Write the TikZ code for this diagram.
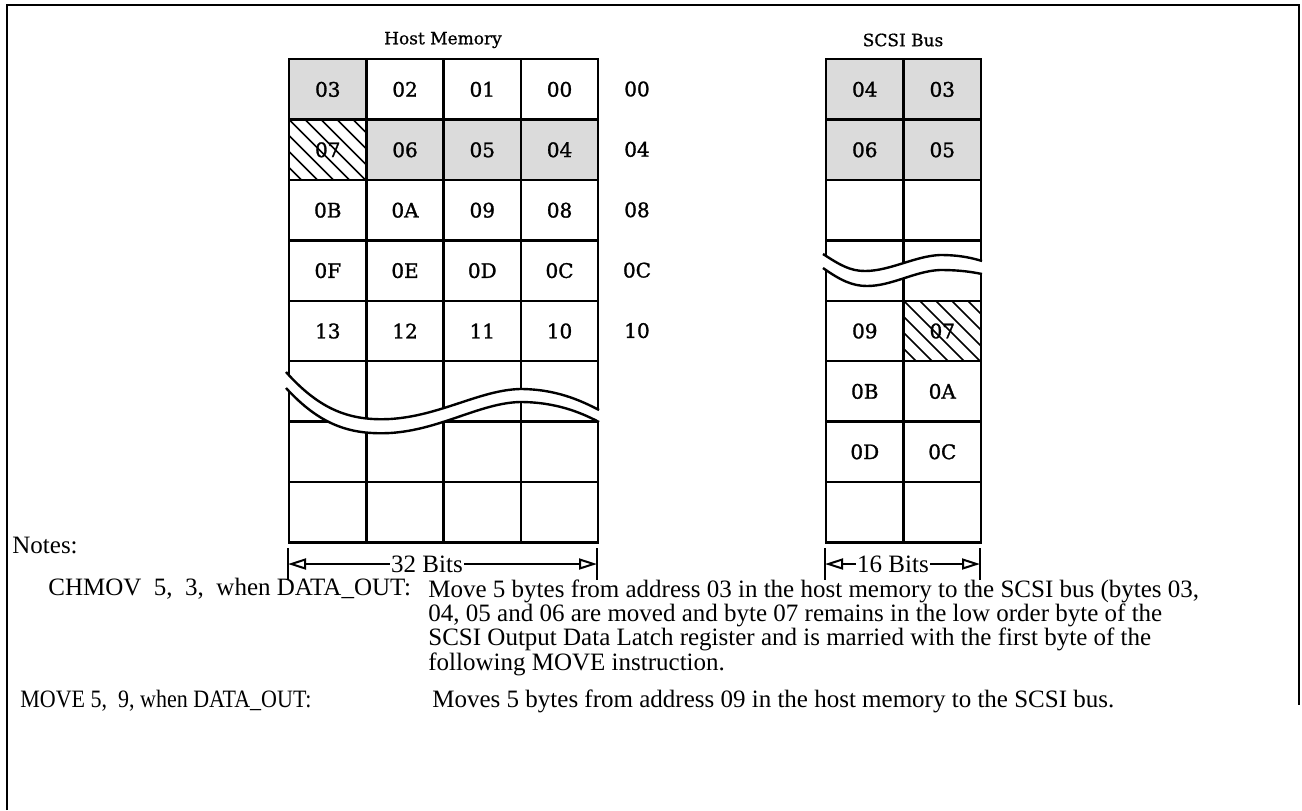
\documentclass[tikz,border=0pt]{standalone}
\usepackage{fontspec}
\setmainfont{Liberation Serif}
\newfontfamily\cellfont[FakeBold=1.3]{DejaVu Serif}
\newfontfamily\titlefont[FakeBold=0.8]{DejaVu Serif}
\newfontfamily\narrowfont[FakeStretch=0.88]{Liberation Serif}
\usetikzlibrary{arrows.meta}

\begin{document}
\begin{tikzpicture}[
        x=0.5pt, y=-0.5pt,
        cell/.style={
            draw,
            line width=1.2pt,
            anchor=north west,
            minimum width=38.6pt,
            minimum height=30.2pt,
            inner sep=0pt,
            font=\cellfont\fontsize{10}{11}\selectfont
        },
        plain/.style={},
        shade/.style={fill=black!14},
        hatch/.style={
            path picture={
                \foreach \k in {-4,...,5}
                    \draw[line width=0.8pt] ([xshift=\k*8pt]path picture bounding box.north west) -- ++(40pt,-40pt);
            }
        },
        addr/.style={font=\cellfont\fontsize{10}{11}\selectfont},
        title/.style={font=\titlefont\fontsize{8.5}{10}\selectfont},
        note/.style={font=\fontsize{12.5}{12.2}\selectfont, inner sep=0pt},
        tick/.style={line width=1pt},
        dim/.style={line width=1pt, -{Triangle[open, length=9pt, width=5.5pt]}},
        brk/.style={line width=1.2pt}
    ]
    \useasboundingbox (0,0) rectangle (1302,810);
    \draw[line width=1pt] (7,810) -- (7,5) -- (1299,5) -- (1299,705);

    % host memory
    \node[title] (htitle) at (443,40) {Host Memory};
    \foreach \c/\lab/\sty in {0/03/shade, 1/02/plain, 2/01/plain, 3/00/plain}
        \node[cell, \sty] (h0\c) at (288+\c*77.25, 58) {\lab};
    \foreach \c/\lab/\sty in {0/07/hatch, 1/06/shade, 2/05/shade, 3/04/shade}
        \node[cell, \sty] (h1\c) at (288+\c*77.25, 58+60.4) {\lab};
    \foreach \c/\lab in {0/0B, 1/0A, 2/09, 3/08}
        \node[cell] (h2\c) at (288+\c*77.25, 58+2*60.4) {\lab};
    \foreach \c/\lab in {0/0F, 1/0E, 2/0D, 3/0C}
        \node[cell] (h3\c) at (288+\c*77.25, 58+3*60.4) {\lab};
    \foreach \c/\lab in {0/13, 1/12, 2/11, 3/10}
        \node[cell] (h4\c) at (288+\c*77.25, 58+4*60.4) {\lab};
    \foreach \r in {5,6,7}
        \foreach \c in {0,...,3}
            \node[cell] (h\r\c) at (288+\c*77.25, 58+\r*60.4) {};
    \foreach \r/\a in {0/00, 1/04, 2/08, 3/0C, 4/10}
        \node[addr] (a\r) at (637, 89+\r*60.4) {\a};

    % break in host memory
    \fill[white] (286,372) .. controls (320,410) and (350,421) .. (390,419)
        .. controls (440,416) and (480,390) .. (520,389)
        .. controls (555,389) and (580,400) .. (599,410)
        -- (599,422) .. controls (580,412) and (555,402) .. (520,402)
        .. controls (480,403) and (440,430) .. (390,433)
        .. controls (350,435) and (320,425) .. (286,388) -- cycle;
    \draw[brk] (286,372) .. controls (320,410) and (350,421) .. (390,419)
        .. controls (440,416) and (480,390) .. (520,389)
        .. controls (555,389) and (580,400) .. (599,410);
    \draw[brk] (286,388) .. controls (320,425) and (350,435) .. (390,433)
        .. controls (440,430) and (480,403) .. (520,402)
        .. controls (555,402) and (580,412) .. (599,422);

    % scsi bus
    \node[title] (stitle) at (903,40) {SCSI Bus};
    \foreach \r/\la/\sa/\lb/\sb in {0/04/shade/03/shade, 1/06/shade/05/shade,
                                   2//plain//plain, 3//plain//plain,
                                   4/09/plain/07/hatch, 5/0B/plain/0A/plain,
                                   6/0D/plain/0C/plain, 7//plain//plain} {
        \node[cell, \sa] (s\r0) at (825, 58+\r*60.4) {\la};
        \node[cell, \sb] (s\r1) at (902.5, 58+\r*60.4) {\lb};
    }

    % break in scsi bus
    \fill[white] (823,254) .. controls (840,265) and (850,271) .. (865,271)
        .. controls (890,271) and (915,256) .. (940,255)
        .. controls (960,255) and (972,258) .. (982,261)
        -- (982,274) .. controls (972,272) and (960,270) .. (940,270)
        .. controls (915,271) and (892,286) .. (867,286)
        .. controls (852,286) and (840,280) .. (823,268) -- cycle;
    \draw[brk] (823,254) .. controls (840,265) and (850,271) .. (865,271)
        .. controls (890,271) and (915,256) .. (940,255)
        .. controls (960,255) and (972,258) .. (982,261);
    \draw[brk] (823,268) .. controls (840,280) and (852,286) .. (867,286)
        .. controls (892,286) and (915,271) .. (940,270)
        .. controls (960,270) and (972,272) .. (982,274);

    % widths
    \coordinate (d32a) at (288,564);
    \coordinate (d32b) at (597,564);
    \coordinate (d16a) at (825,564);
    \coordinate (d16b) at (980,564);
    \foreach \p in {d32a, d32b, d16a, d16b}
        \draw[tick] ([yshift=8pt]\p) -- ([yshift=-8pt]\p);
    \node[note, inner sep=0.5pt] (l32) at (427,564) {32 Bits};
    \node[note, inner sep=0.5pt] (l16) at (893,564) {16 Bits};
    \draw[dim] (l32.west) -- (d32a);
    \draw[dim] (l32.east) -- (d32b);
    \draw[dim] (l16.west) -- (d16a);
    \draw[dim] (l16.east) -- (d16b);

    % notes
    \node[note, anchor=base west] (notes) at (12,553) {Notes:};
    \node[note, anchor=base west] (cmd1) at (48,595) {CHMOV~ 5,~ 3,~ when DATA\_OUT:};
    \node[note, anchor=north west, align=left] (txt1) at (428,579)
        {Move 5 bytes from address 03 in the host memory to the SCSI bus (bytes 03,\\
         04, 05 and 06 are moved and byte 07 remains in the low order byte of the\\
         SCSI Output Data Latch register and is married with the first byte of the\\
         following MOVE instruction.};
    \node[note, anchor=base west, font=\narrowfont\fontsize{12.5}{12.2}\selectfont] (cmd2) at (20,707) {MOVE 5,~ 9, when DATA\_OUT:};
    \node[note, anchor=base west] (txt2) at (432,707) {Moves 5 bytes from address 09 in the host memory to the SCSI bus.};
\end{tikzpicture}
\end{document}
